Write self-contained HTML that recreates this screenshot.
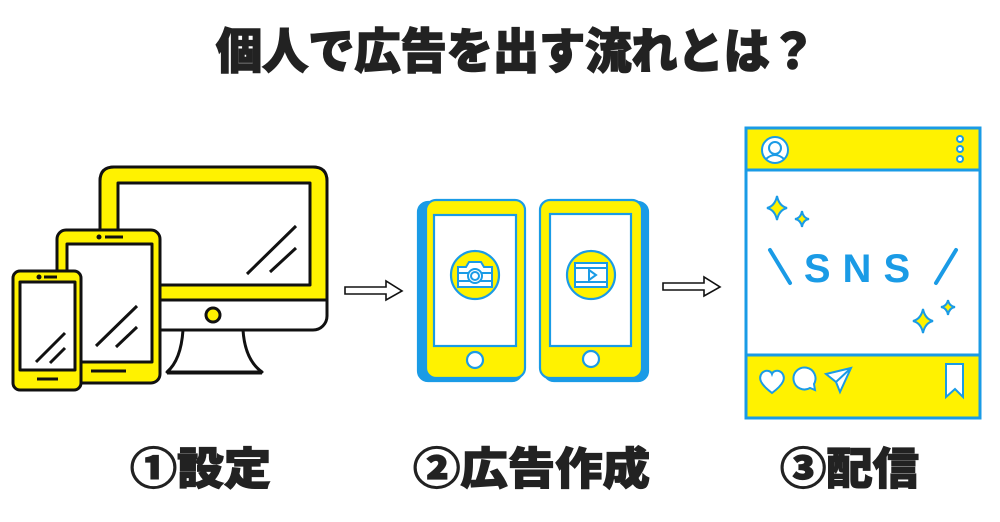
<!DOCTYPE html>
<html><head><meta charset="utf-8"><style>
html,body{margin:0;padding:0;background:#fff;}
svg{display:block;}
.t{font-family:"Liberation Sans","Noto Sans CJK JP",sans-serif;font-weight:900;fill:#222;}
</style></head><body>
<svg width="1000" height="522" viewBox="0 0 1000 522" xmlns="http://www.w3.org/2000/svg">
<text class="t" x="216" y="68" font-size="48" textLength="600" lengthAdjust="spacingAndGlyphs" stroke="#222" stroke-width="1.5">個人で広告を出す流れとは？</text>

<!-- Monitor -->
<g stroke="#111" stroke-width="3" stroke-linejoin="round">
<path d="M183 330 L243 330 Q245 360 262 372 L167 372 Q181 360 183 330 Z" fill="#fff"/>
<rect x="100" y="167" width="227" height="163" rx="14" fill="#fff"/>
<path d="M114 167 H313 Q327 167 327 181 V300 H100 V181 Q100 167 114 167 Z" fill="#fff200"/>
<rect x="118" y="183" width="192" height="102" fill="#fff"/>
<circle cx="213" cy="315" r="7" fill="#fff200"/>
<line x1="247" y1="274" x2="296" y2="226"/><line x1="270" y1="272" x2="296" y2="248"/>
<line x1="167" y1="373" x2="262" y2="373"/>
<!-- Tablet -->
<rect x="57" y="230" width="103" height="153" rx="9" fill="#fff200"/>
<rect x="67" y="244" width="85" height="118" fill="#fff"/>
<line x1="105" y1="237" x2="123" y2="237"/><circle cx="99" cy="237" r="1" fill="#111"/>
<line x1="91" y1="371" x2="126" y2="371"/>
<line x1="96" y1="346" x2="137" y2="306"/><line x1="116" y1="347" x2="137" y2="327"/>
<!-- Phone -->
<rect x="13" y="271" width="68" height="119" rx="7" fill="#fff200"/>
<rect x="20" y="282" width="55" height="88" fill="#fff"/>
<line x1="44" y1="277" x2="57" y2="277"/><circle cx="39" cy="277" r="1" fill="#111"/>
<line x1="37" y1="379" x2="58" y2="379"/>
<line x1="36" y1="362" x2="65" y2="333"/><line x1="50" y1="363" x2="65" y2="348"/>
</g>

<!-- arrows -->
<g fill="#fff" stroke="#111" stroke-width="1.6">
<path d="M345 287 H386 V281 L402 291 L386 300 V294 H345 Z"/>
<path d="M663 283 H704 V277 L720 287 L704 296 V290 H663 Z"/>
</g>

<!-- Phones -->
<g stroke="#1a9be6" stroke-width="2.2">
<rect x="418" y="202" width="104" height="179" rx="10" fill="#1a9be6"/>
<rect x="426" y="200" width="99" height="178" rx="10" fill="#fff200"/>
<rect x="434" y="215" width="82" height="131" fill="#fff"/>
<circle cx="475" cy="275" r="24" fill="#fff200"/>
<circle cx="475" cy="360" r="8" fill="#fff"/>
<rect x="544" y="202" width="104" height="179" rx="10" fill="#1a9be6"/>
<rect x="540" y="200" width="102" height="178" rx="10" fill="#fff200"/>
<rect x="550" y="214" width="81" height="132" fill="#fff"/>
<circle cx="591" cy="275" r="24" fill="#fff200"/>
<circle cx="591" cy="359" r="8" fill="#fff"/>
</g>
<g stroke="#1a9be6" stroke-width="2" fill="none">
<path d="M458 267 H466 L469 262 H481 L484 267 H492 V287 H458 Z" fill="#fff"/>
<line x1="458" y1="273" x2="492" y2="273"/><line x1="458" y1="281" x2="492" y2="281"/>
<circle cx="475" cy="276" r="7" fill="#fff"/><circle cx="475" cy="276" r="4"/>
<rect x="575" y="263" width="32" height="24" fill="#fff"/>
<line x1="575" y1="268" x2="607" y2="268"/><line x1="575" y1="282" x2="607" y2="282"/>
<path d="M589 270 L596 275 L589 280 Z"/>
</g>

<!-- SNS card -->
<g stroke="#1a9be6" stroke-width="3">
<rect x="746" y="128" width="234" height="290" fill="#fff"/>
<rect x="746" y="128" width="234" height="42" fill="#fff200"/>
<rect x="746" y="355" width="234" height="63" fill="#fff200"/>
</g>
<g stroke="#1a9be6" stroke-width="2" fill="none">
<circle cx="775" cy="150" r="13" fill="#fff"/><circle cx="775" cy="148" r="6"/>
<path d="M766 159 Q775 151 784 159"/>
<circle cx="960" cy="139" r="3" fill="#fff"/><circle cx="960" cy="149" r="3" fill="#fff"/><circle cx="960" cy="159" r="3" fill="#fff"/>
<path d="M772 393 C760 384 758 378 762 373 C766 369 771 371 772 374 C773 371 778 369 782 373 C786 378 784 384 772 393 Z" fill="#fff"/>
<path d="M814 384 A11 11 0 1 0 810 388 L815 390 Z" fill="#fff"/>
<path d="M826 374 L851 368 L840 392 L836 382 Z M836 382 L851 368" fill="#fff"/>
<path d="M946 364 H963 V397 L955 389 L946 397 Z" fill="#fff"/>
</g>
<g stroke="#1a9be6" stroke-width="2" fill="#fff200">
<path d="M777 196 Q779 206 787 208 Q779 210 777 220 Q775 210 767 208 Q775 206 777 196 Z"/>
<path d="M802 211 Q803 218 809 219 Q803 220 802 227 Q801 220 795 219 Q801 218 802 211 Z"/>
<path d="M923 309 Q925 319 933 321 Q925 323 923 333 Q921 323 913 321 Q921 319 923 309 Z"/>
<path d="M948 300 Q949 306 955 307 Q949 308 948 315 Q947 308 941 307 Q947 306 948 300 Z"/>
</g>
<g stroke="#1a9be6" stroke-width="4" stroke-linecap="round">
<line x1="770" y1="250" x2="790" y2="283"/><line x1="956" y1="250" x2="936" y2="283"/>
</g>
<text x="863" y="282" text-anchor="middle" font-family="Liberation Sans, sans-serif" font-weight="bold" font-size="40" fill="#1a9be6" letter-spacing="12">SNS</text>

<text class="t" x="130" y="484" font-size="44" textLength="141" lengthAdjust="spacingAndGlyphs" stroke="#222" stroke-width="1.2">①設定</text>
<text class="t" x="413" y="484" font-size="44" textLength="237" lengthAdjust="spacingAndGlyphs" stroke="#222" stroke-width="1.2">②広告作成</text>
<text class="t" x="780" y="484" font-size="44" textLength="139" lengthAdjust="spacingAndGlyphs" stroke="#222" stroke-width="1.2">③配信</text>
</svg>
</body></html>
